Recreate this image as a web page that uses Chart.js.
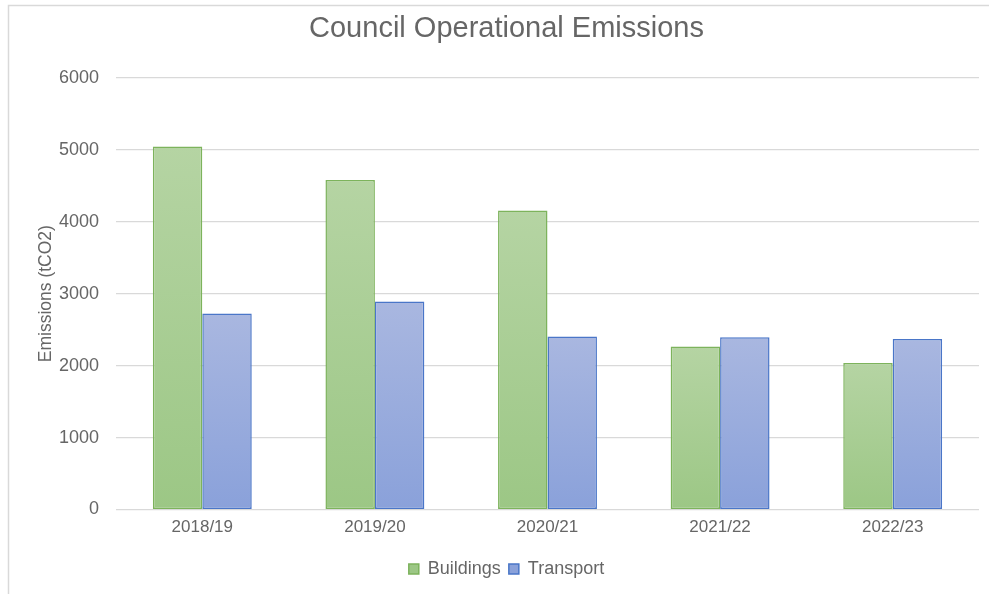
<!DOCTYPE html>
<html>
<head>
<meta charset="utf-8">
<script src="https://cdn.jsdelivr.net/npm/chart.js@4.4.1/dist/chart.umd.min.js"></script>
<style>
  html, body { margin: 0; padding: 0; background: #ffffff; }
  #wrap { position: relative; width: 989px; height: 594px; }
</style>
</head>
<body>
<div id="wrap"><canvas id="c" width="989" height="594"></canvas></div>
<script>
const categories = ['2018/19', '2019/20', '2020/21', '2021/22', '2022/23'];
const buildings = [5045, 4580, 4155, 2265, 2035];
const transport = [2725, 2890, 2405, 2395, 2370];
const yTickLabels = ['0', '1000', '2000', '3000', '4000', '5000', '6000'];
const seriesNames = ['Buildings', 'Transport'];
const chartTitle = 'Council Operational Emissions';
const yAxisTitle = 'Emissions (tCO2)';

const FONT = "'Liberation Sans', Arial, sans-serif";
const TEXT = '#666666';

function barGradient(top, bottom) {
  return (ctx) => {
    const chart = ctx.chart;
    const { chartArea, scales } = chart;
    if (!chartArea || ctx.type !== 'data' || !scales.y) return bottom;
    const v = ctx.parsed ? ctx.parsed.y : ctx.raw;
    const y0 = scales.y.getPixelForValue(0);
    const y1 = scales.y.getPixelForValue(v);
    if (!isFinite(y0) || !isFinite(y1) || y0 === y1) return bottom;
    const g = chart.ctx.createLinearGradient(0, y1, 0, y0);
    g.addColorStop(0, top);
    g.addColorStop(1, bottom);
    return g;
  };
}

const framePlugin = {
  id: 'frame',
  beforeDraw(chart) {
    const c = chart.ctx;
    c.save();
    c.strokeStyle = '#d9d9d9';
    c.lineWidth = 1.5;
    c.beginPath();
    c.moveTo(8.5, 594);
    c.lineTo(8.5, 5.5);
    c.lineTo(989, 5.5);
    c.stroke();
    c.restore();
  }
};

new Chart(document.getElementById('c'), {
  type: 'bar',
  data: {
    labels: categories,
    datasets: [
      {
        label: seriesNames[0],
        data: buildings,
        backgroundColor: barGradient('#b5d4a3', '#9cc785'),
        borderColor: '#7db35c',
        borderWidth: 1.5,
        borderSkipped: false
      },
      {
        label: seriesNames[1],
        data: transport,
        backgroundColor: barGradient('#a9b7e0', '#8aa1da'),
        borderColor: '#4a76c8',
        borderWidth: 1.5,
        borderSkipped: false
      }
    ]
  },
  plugins: [framePlugin],
  options: {
    responsive: false,
    animation: false,
    devicePixelRatio: 1,
    layout: { padding: { left: 34, right: 10, top: 0, bottom: 6 } },
    datasets: {
      bar: { barPercentage: 1.0, categoryPercentage: 0.573 }
    },
    plugins: {
      title: {
        display: true,
        text: chartTitle,
        color: TEXT,
        font: { family: FONT, size: 29, weight: 'normal' },
        padding: { top: 12, bottom: 31 }
      },
      legend: {
        display: true,
        position: 'bottom',
        labels: {
          color: TEXT,
          font: { family: FONT, size: 18 },
          boxWidth: 10,
          boxHeight: 10,
          padding: 8
        }
      },
      tooltip: { enabled: false }
    },
    scales: {
      x: {
        grid: { display: false, drawTicks: false },
        border: { display: false },
        ticks: { color: TEXT, font: { family: FONT, size: 17 }, padding: 8 },
        afterFit(scale) { scale.height = 42.5; }
      },
      y: {
        min: 0,
        max: 6000,
        ticks: {
          stepSize: 1000,
          color: TEXT,
          font: { family: FONT, size: 18 },
          padding: 17,
          callback: (v, i) => yTickLabels[i]
        },
        grid: { color: '#d9d9d9', lineWidth: 1.2, drawTicks: false },
        border: { display: false },
        title: {
          display: true,
          text: yAxisTitle,
          color: TEXT,
          font: { family: FONT, size: 17.5 },
          padding: { top: 2, bottom: 0 }
        },
        afterFit(scale) { scale.width = 82; }
      }
    }
  }
});
</script>
</body>
</html>
